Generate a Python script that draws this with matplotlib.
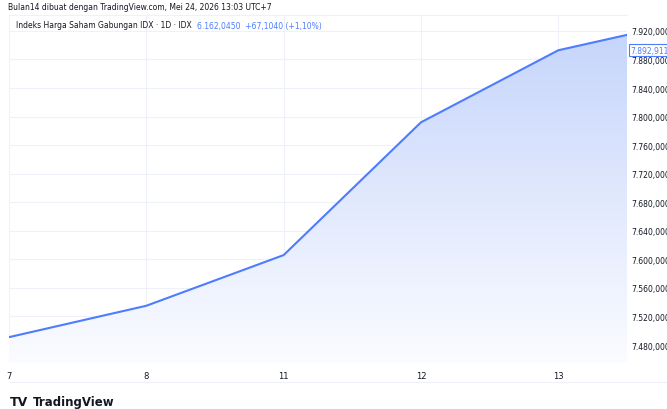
import numpy as np
import matplotlib.pyplot as plt
from matplotlib.ticker import FuncFormatter
from matplotlib.colors import LinearSegmentedColormap

# daily closes (last point runs off the right edge)
days = ['7', '8', '11', '12', '13', '14']
close = [7491.0, 7535.0, 7606.0, 7792.0, 7892.911, 7936.0]
yticks = [7480, 7520, 7560, 7600, 7640, 7680, 7720, 7760, 7800, 7840, 7880, 7920]

line_col = '#4d7cfe'
grid_col = '#eef1f8'


def idr(v):
    return f'{v:,.4f}'.replace(',', 'X').replace('.', ',').replace('X', '.')


fig = plt.figure(figsize=(6.67, 4.1), dpi=100)
ax = fig.add_axes([9 / 667, 46 / 410, 618 / 667, 348 / 410])

x = np.arange(len(close))
ax.set_xlim(0, 4.5)
ax.set_ylim(7454.8, 7942.3)

# gradient area under the line
poly = ax.fill_between(x, close, 7454.8, color='none', lw=0)
grad = np.linspace(0, 1, 256).reshape(-1, 1)
cmap = LinearSegmentedColormap.from_list('fillg', ['#fbfcff', '#c3d3fb'])
img = ax.imshow(grad, cmap=cmap, aspect='auto', origin='lower',
                extent=[0, 5, 7454.8, 7942.3], zorder=1)
img.set_clip_path(poly.get_paths()[0], transform=ax.transData)
ax.plot(x, close, color=line_col, lw=1.5, zorder=3)

# grid
for v in yticks:
    ax.axhline(v, color=grid_col, lw=0.8, zorder=0.5)
for xi in x[:5]:
    ax.axvline(xi, color=grid_col, lw=0.8, zorder=0.5)

ax.set_xticks(x[:5])
ax.set_xticklabels(days[:5], fontsize=6, color='#131722')
ax.tick_params(axis='x', length=0, pad=6)
ax.yaxis.tick_right()
ax.set_yticks(yticks)
ax.yaxis.set_major_formatter(FuncFormatter(lambda v, p: idr(v)))
ax.tick_params(axis='y', length=0, pad=3, labelsize=5.5, labelcolor='#131722')
for s in ['left', 'right', 'bottom']:
    ax.spines[s].set_visible(False)
ax.spines['top'].set_color(grid_col)
ax.spines['top'].set_linewidth(0.8)

# last price label
ax.annotate(idr(close[4]), xy=(1.0, close[4]), xycoords=('axes fraction', 'data'),
            xytext=(2.5, 0), textcoords='offset points', ha='left', va='center',
            fontsize=5.5, color=line_col,
            bbox=dict(boxstyle='square,pad=0.2', fc='white', ec=line_col, lw=0.8),
            annotation_clip=False, zorder=5)

# header texts
fig.text(8 / 667, 1 - 8 / 410, 'Bulan14 dibuat dengan TradingView.com, Mei 24, 2026 13:03 UTC+7',
         fontsize=5.5, color='#131722', va='center', ha='left')
t = fig.text(16 / 667, 1 - 26 / 410, 'Indeks Harga Saham Gabungan IDX · 1D · IDX',
             fontsize=5.5, color='#131722', va='center', ha='left')
fig.canvas.draw()
bb = t.get_window_extent()
fig.text((bb.x1 + 5) / 667, 1 - 26 / 410, '6.162,0450  +67,1040 (+1,10%)',
         fontsize=5.5, color=line_col, va='center', ha='left')

# bottom separator and logo
fig.add_artist(plt.Line2D([10 / 667, 1], [1 - 383 / 410] * 2, color=grid_col, lw=0.8))
fig.text(10 / 667, 1 - 403 / 410, 'TV', fontsize=9, fontweight='black',
         color='#131722', va='center', ha='left')
fig.text(33 / 667, 1 - 403 / 410, 'TradingView', fontsize=8.5, fontweight='bold',
         color='#131722', va='center', ha='left')

fig.savefig('out.png', dpi=100)
